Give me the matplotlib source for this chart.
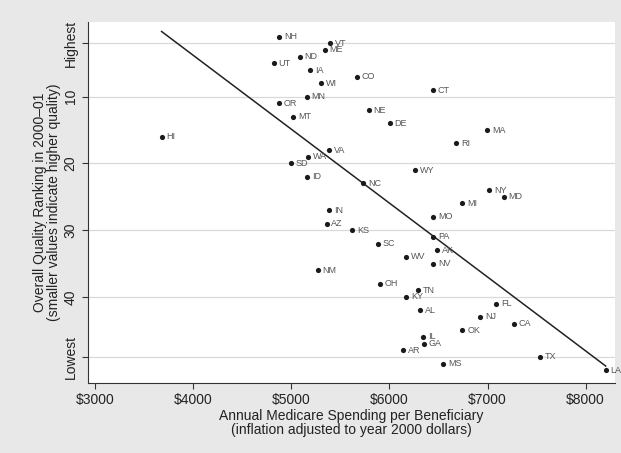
import numpy as np
import matplotlib
matplotlib.use('Agg')
import matplotlib.pyplot as plt

plt.rcParams['font.family'] = ['Liberation Sans', 'DejaVu Sans']

# Medicare spending vs. quality ranking, by state
states = ['NH', 'VT', 'ME', 'ND', 'UT', 'IA', 'CO', 'WI', 'CT', 'MN',
          'OR', 'NE', 'MT', 'DE', 'MA', 'HI', 'RI', 'VA', 'WA', 'SD',
          'WY', 'ID', 'NC', 'NY', 'MD', 'MI', 'IN', 'MO', 'AZ', 'KS',
          'PA', 'SC', 'AK', 'WV', 'NV', 'NM', 'OH', 'TN', 'KY', 'FL',
          'AL', 'NJ', 'CA', 'OK', 'IL', 'GA', 'AR', 'TX', 'MS', 'LA']
spending = [4877, 5400, 5342, 5088, 4823, 5189, 5665, 5301, 6445, 5156,
            4877, 5790, 5020, 6004, 6995, 3679, 6683, 5383, 5172, 4993,
            6259, 5162, 5733, 7015, 7165, 6740, 5386, 6445, 5360, 5620,
            6445, 5879, 6486, 6174, 6445, 5268, 5902, 6293, 6174, 7090,
            6310, 6925, 7270, 6744, 6344, 6350, 6140, 7532, 6547, 8204]
rank = [1, 2, 3, 4, 5, 6, 7, 8, 9, 10,
        11, 12, 13, 14, 15, 16, 17, 18, 19, 20,
        21, 22, 23, 24, 25, 26, 27, 28, 29, 30,
        31, 32, 33, 34, 35, 36, 38, 39, 40, 41,
        42, 43, 44, 45, 46, 47, 48, 49, 50, 51]

xticks = [3000, 4000, 5000, 6000, 7000, 8000]
yticks = [2, 10, 20, 30, 40, 49]
ytick_labels = ['Highest', '10', '20', '30', '40', 'Lowest']

x = np.array(spending)
y = np.array(rank)

fig = plt.figure(figsize=(6.21, 4.53), dpi=100, facecolor='#e8e8e8')
ax = fig.add_axes([0.1417, 0.1545, 0.848, 0.797])
ax.set_facecolor('white')

# grid lines
for t in yticks:
    ax.axhline(t, color='#d9d9d9', lw=0.9, zorder=0)

# fit line over data range
b, a = np.polyfit(x, y, 1)
xs = np.array([x.min(), x.max()])
ax.plot(xs, a + b * xs, color='#222222', lw=1.1, zorder=2)

ax.scatter(x, y, s=14, color='#1a1a1a', zorder=3, linewidths=0)
for s, xi, yi in zip(states, x, y):
    ax.annotate(s, (xi, yi), xytext=(3.5, 0), textcoords='offset points',
                va='center', ha='left', fontsize=6.5, color='#555555',
                annotation_clip=False)

ax.set_xlim(2929, 8295)
ax.set_ylim(52.9, -1.2)
ax.set_xticks(xticks)
ax.set_xticklabels(['$%d' % v for v in xticks], fontsize=10, color='#222222')
ax.set_yticks(yticks)
ax.set_yticklabels(ytick_labels, rotation=90, va='center', fontsize=10, color='#222222')
ax.tick_params(length=4, width=0.8, color='#333333')

ax.spines['top'].set_visible(False)
ax.spines['right'].set_visible(False)
ax.spines['left'].set_color('#333333')
ax.spines['bottom'].set_color('#333333')

ax.set_xlabel('Annual Medicare Spending per Beneficiary\n(inflation adjusted to year 2000 dollars)',
              fontsize=10, color='#222222', labelpad=1, linespacing=1.0)
ax.set_ylabel('Overall Quality Ranking in 2000\u201301\n(smaller values indicate higher quality)',
              fontsize=10, color='#222222', labelpad=2, linespacing=1.0)

fig.savefig('out.png', dpi=100, facecolor=fig.get_facecolor())
